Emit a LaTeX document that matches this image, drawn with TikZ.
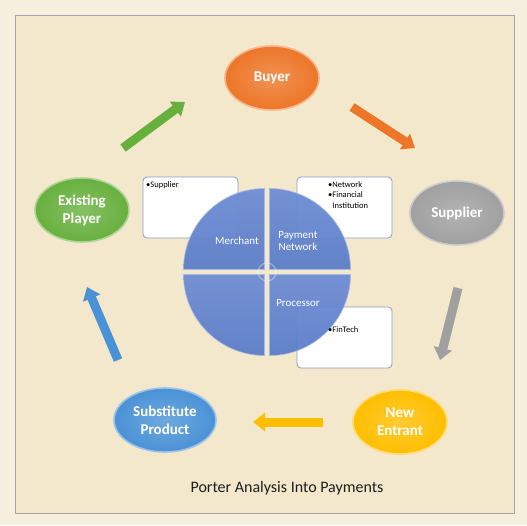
\documentclass[tikz,border=0pt]{standalone}
\usepackage{fontspec}
\setmainfont{Carlito}
\usepackage{tikz}
\usetikzlibrary{shapes,shapes.geometric,arrows.meta,positioning,calc}

\definecolor{paper}{RGB}{247,239,221}
\definecolor{canvasbg}{RGB}{243,231,204}
\definecolor{framegray}{RGB}{168,164,178}
\definecolor{buyerorange}{RGB}{237,118,40}
\definecolor{suppliergray}{RGB}{160,160,160}
\definecolor{entrantgold}{RGB}{255,190,0}
\definecolor{substblue}{RGB}{74,146,214}
\definecolor{playergreen}{RGB}{104,176,62}
\definecolor{piehigh}{RGB}{108,140,212}
\definecolor{pielow}{RGB}{90,124,200}
\definecolor{boxedge}{RGB}{140,156,192}

\begin{document}
\begin{tikzpicture}[
    x=1pt, y=-1pt,
    force/.style={ellipse, minimum width=94pt, minimum height=64pt, inner sep=0pt,
        align=center, text=white, font=\bfseries\fontsize{15}{18}\selectfont,
        draw=#1!55!white, line width=1.6pt, inner color=#1!80!white, outer color=#1},
    flow/.style={line width=9pt, draw=#1, -{Triangle[length=12pt,width=18pt]}},
    infobox/.style={draw=boxedge, line width=0.8pt, fill=white, rounded corners=4pt,
        minimum width=95pt, minimum height=61pt},
    boxtext/.style={font=\fontsize{8.5}{10.5}\selectfont, align=left, inner sep=0pt, anchor=north west},
    piepart/.style={top color=piehigh, bottom color=pielow, fill opacity=0.94,
        draw=piehigh!60!white, line width=0.6pt},
    pielabel/.style={font=\fontsize{11}{12.5}\selectfont, text=white, align=center},
    >=Stealth
]
    % Page and frame
    \fill[paper] (0,0) rectangle (527,525);
    \useasboundingbox (0,0) rectangle (527,525);
    \fill[canvasbg] (15,15) rectangle (514,513);
    \draw[framegray, line width=1pt] (15,15) rectangle (514,513);

    % Five forces
    \node[force=buyerorange] (buyer) at (272,78) {Buyer};
    \node[force=suppliergray] (supplier) at (457,213) {Supplier};
    \node[force=entrantgold] (entrant) at (400,422) {New\\Entrant};
    \node[force=substblue, minimum width=102pt] (subst) at (165,420) {Substitute\\Product};
    \node[force=playergreen] (player) at (82,210) {Existing\\Player};

    % Arrow ends
    \coordinate (g1) at (123,148); \coordinate (g2) at (185,102);
    \coordinate (o1) at (352,107); \coordinate (o2) at (415,148);
    \coordinate (s1) at (458,288); \coordinate (s2) at (440,360);
    \coordinate (y1) at (323,422); \coordinate (y2) at (253,422);
    \coordinate (b1) at (118,360); \coordinate (b2) at (87,287);

    % Block arrows
    \draw[flow=playergreen] (g1) -- (g2);
    \draw[flow=buyerorange] (o1) -- (o2);
    \draw[flow=suppliergray] (s1) -- (s2);
    \draw[flow=entrantgold] (y1) -- (y2);
    \draw[flow=substblue] (b1) -- (b2);

    % Side boxes
    \node[infobox] (bx1) at (190.5,207.5) {};
    \node[infobox] (bx2) at (344.5,207.5) {};
    \node[infobox] (bx3) at (344.5,337.5) {};

    % Pie
    \coordinate (pc) at (267,272);
    \foreach \a/\dx/\dy in {0/1/1, 90/-1/1, 180/-1/-1, 270/1/-1}
        \path[piepart] ($(pc)+(2.5*\dx,2.5*\dy)$) -- ++(\a:81)
            arc[start angle=\a, end angle=\a+90, radius=81] -- cycle;
    \draw[white, opacity=0.35, line width=1.2pt] (pc) circle[radius=9];

    % Pie labels
    \node[pielabel] (merchant) at (237,241) {Merchant};
    \node[pielabel] (network) at (298,241) {Payment\\Network};
    \node[pielabel] (processor) at (298,303) {Processor};

    % Box texts
    \node[boxtext] (t1) at (146,181) {•Supplier};
    \node[boxtext] (t2) at (328,181) {•Network\\•Financial\\\phantom{•}Institution};
    \node[boxtext] (t3) at (328,326) {•FinTech};

    % Title
    \node[font=\fontsize{16}{18}\selectfont, text={rgb,255:red,30;green,30;blue,30}] (title) at (287,488)
        {Porter Analysis Into Payments};

\end{tikzpicture}
\end{document}
